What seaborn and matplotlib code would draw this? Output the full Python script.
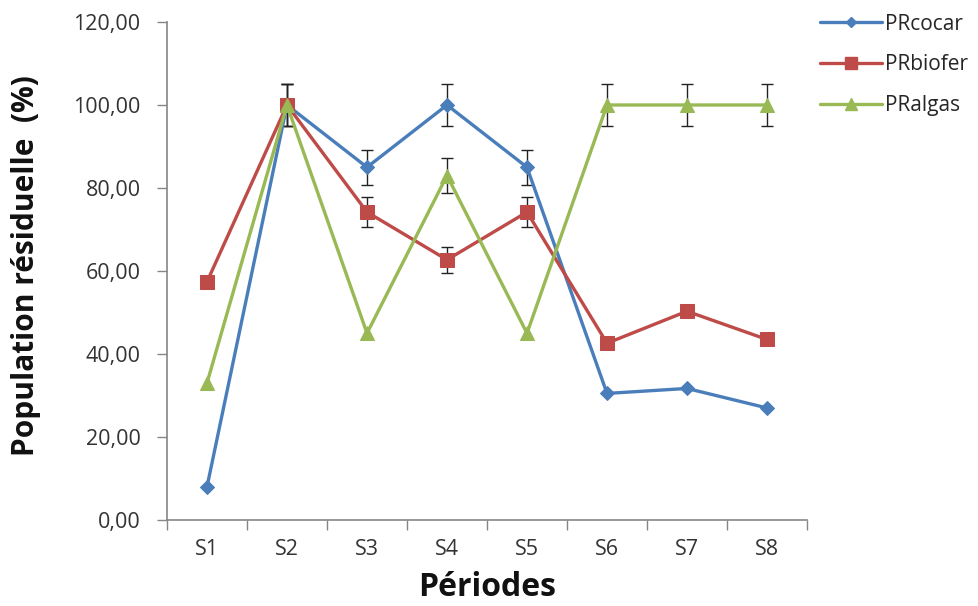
import matplotlib
matplotlib.use("Agg")
import matplotlib.pyplot as plt
from matplotlib.lines import Line2D
import numpy as np
import pandas as pd
import seaborn as sns

periods = ["S1", "S2", "S3", "S4", "S5", "S6", "S7", "S8"]
pr_cocar = [8.0, 100.0, 85.0, 100.0, 85.0, 30.5, 31.7, 27.0]
pr_biofer = [57.4, 100.0, 74.2, 62.7, 74.2, 42.6, 50.3, 43.5]
pr_algas = [33.0, 100.0, 45.0, 83.0, 45.0, 100.0, 100.0, 100.0]
err_cocar = [0.0, 5.0, 4.25, 5.0, 4.25, 0.0, 0.0, 0.0]
err_biofer = [0.0, 5.0, 3.7, 3.1, 3.7, 0.0, 0.0, 0.0]
err_algas = [0.0, 5.0, 0.0, 4.15, 0.0, 5.0, 5.0, 5.0]
series_names = ["PRcocar", "PRbiofer", "PRalgas"]
yticks = [0, 20, 40, 60, 80, 100, 120]

colors = {"PRcocar": "#4A7EBB", "PRbiofer": "#BE4B48", "PRalgas": "#98B954"}
markers = {"PRcocar": "D", "PRbiofer": "s", "PRalgas": "^"}
msizes = {"PRcocar": 7, "PRbiofer": 10.5, "PRalgas": 10}

sns.set_theme(style="white")
plt.rcParams["font.family"] = ["Open Sans", "DejaVu Sans"]

df = pd.DataFrame({
    "period": periods * 3,
    "value": pr_cocar + pr_biofer + pr_algas,
    "series": np.repeat(series_names, len(periods)),
})

fig = plt.figure(figsize=(9.79, 6.06), dpi=100)
ax = fig.add_axes([167 / 979, 1 - 520 / 606, 640 / 979, 498 / 606])

xpos = np.arange(len(periods))
for vals, errs in zip([pr_cocar, pr_biofer, pr_algas], [err_cocar, err_biofer, err_algas]):
    v = np.asarray(vals)
    e = np.asarray(errs)
    keep = e > 0
    ax.errorbar(xpos[keep], v[keep], yerr=e[keep], fmt="none", ecolor="#222222",
                elinewidth=1.0, capsize=4.5, capthick=1.0, zorder=2)

for name in series_names:
    sub = df[df["series"] == name]
    sns.lineplot(data=sub, x="period", y="value", ax=ax, color=colors[name],
                 marker=markers[name], markersize=msizes[name],
                 markeredgecolor=colors[name], linewidth=2.4,
                 sort=False, legend=False, zorder=3)

ax.set_xlim(-0.5, len(periods) - 0.5)
ax.set_ylim(0, 120)
ax.set_yticks(yticks)
ax.set_yticklabels([f"{t:.2f}".replace(".", ",") for t in yticks])
ax.set_xticks(xpos)
ax.set_xticklabels(periods)
ax.set_xticks(np.arange(len(periods) + 1) - 0.5, minor=True)

spine_c = "#868686"
for s in ["top", "right"]:
    ax.spines[s].set_visible(False)
for s in ["left", "bottom"]:
    ax.spines[s].set_color(spine_c)
    ax.spines[s].set_linewidth(1.2)

ax.tick_params(axis="y", which="major", direction="out", length=7, width=1.0,
               color=spine_c, left=True, labelsize=15.5, labelcolor="#333333", pad=12)
ax.tick_params(axis="x", which="major", length=0, labelsize=15.5,
               labelcolor="#333333", pad=14)
ax.tick_params(axis="x", which="minor", direction="out", length=7, width=1.0,
               color=spine_c, bottom=True)

ax.set_xlabel("Périodes", fontsize=23, fontweight="bold", color="#111111")
ax.xaxis.set_label_coords(0.5, -(588 - 520) / 498, transform=ax.transAxes)
ax.xaxis.label.set_va("center")
ax.set_ylabel("Population résiduelle  (%)", fontsize=21.5, fontweight="bold",
              color="#111111")
ax.yaxis.set_label_coords((26 - 167) / 640, (520 - 266) / 498)
ax.yaxis.label.set_va("center")

handles = [Line2D([0], [0], color=colors[n], marker=markers[n],
                  markersize=msizes[n] * 0.8, linewidth=2.4) for n in series_names]
fig.legend(handles, series_names, loc="upper left", bbox_to_anchor=(806 / 979, 1.0),
           frameon=False, fontsize=15, handlelength=3.0, handletextpad=0.15,
           labelspacing=0.95, borderaxespad=0.25)

fig.savefig("out.png", dpi=100)
